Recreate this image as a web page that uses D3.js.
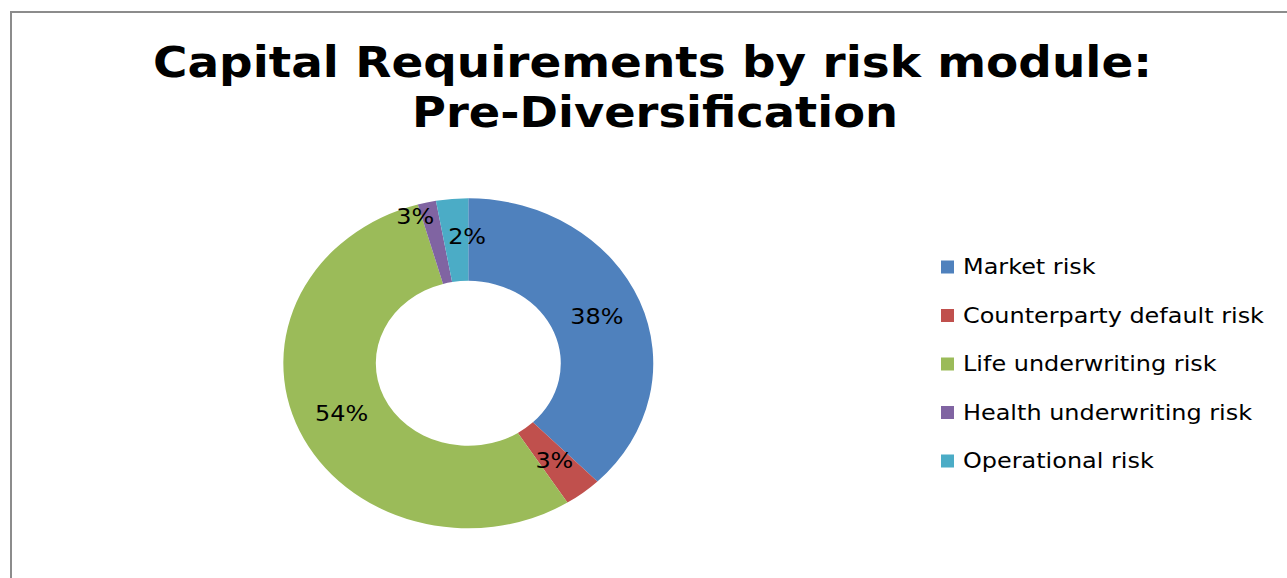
<!DOCTYPE html>
<html>
<head>
<meta charset="utf-8">
<script src="https://cdn.jsdelivr.net/npm/d3@7"></script>
<style>
  html, body { margin: 0; padding: 0; background: #fff; }
  svg { display: block; }
</style>
</head>
<body>
<svg id="chart" width="1287" height="578"></svg>
<script>
// ---- data ----
const categories = ["Market risk", "Counterparty default risk", "Life underwriting risk", "Health underwriting risk", "Operational risk"];
const values = [37.7, 3.3, 54.6, 1.6, 2.8];
const labels = ["38%", "3%", "54%", "3%", "2%"];
const colors = ["#4F81BD", "#C0504D", "#9BBB59", "#8064A2", "#4BACC6"];
const titleLines = ["Capital Requirements by risk module:", "Pre-Diversification"];

// ---- layout ----
const svg = d3.select("#chart");
const W = 1287, H = 578;
svg.append("rect").attr("width", W).attr("height", H).attr("fill", "#fff");

// frame (top and left edge visible)
svg.append("path")
  .attr("d", `M11,${H} L11,12 L${W},12`)
  .attr("fill", "none").attr("stroke", "#8c8c8c").attr("stroke-width", 2);

// title
const titleY = [77, 127];
const titleW = [999, 486];
const titleX = [652.5, 655];
svg.selectAll("text.title").data(titleLines).enter().append("text")
  .attr("class", "title")
  .attr("x", (d, i) => titleX[i]).attr("y", (d, i) => titleY[i])
  .attr("text-anchor", "middle")
  .attr("textLength", (d, i) => titleW[i])
  .attr("lengthAdjust", "spacingAndGlyphs")
  .style("font-family", "'DejaVu Sans', Verdana, sans-serif")
  .style("font-weight", "bold").style("font-size", "42px")
  .attr("fill", "#000")
  .text(d => d);

// donut
const cx = 468.3, cy = 363.3, R = 165, r = 82.5, sx = 1.121;
const pie = d3.pie().sort(null).value(d => d)(values);
const arc = d3.arc().innerRadius(r).outerRadius(R);
const g = svg.append("g").attr("transform", `translate(${cx},${cy}) scale(${sx},1)`);
g.selectAll("path").data(pie).enter().append("path")
  .attr("d", arc)
  .attr("fill", (d, i) => colors[i]);

// data labels
const labelArc = d3.arc().innerRadius((R + r) / 2).outerRadius((R + r) / 2);
const nudge = { 3: [-22, -26], 4: [11, -3] };
const textSX = 1.14;
svg.selectAll("text.lbl").data(pie).enter().append("text")
  .attr("class", "lbl")
  .attr("transform", (d, i) => {
    const c = labelArc.centroid(d);
    const n = nudge[i] || [0, 0];
    return `translate(${cx + c[0] * sx + n[0]},${cy + c[1] + n[1]}) scale(${textSX},1)`;
  })
  .attr("text-anchor", "middle")
  .attr("dominant-baseline", "central")
  .style("font-family", "'DejaVu Sans', Verdana, sans-serif")
  .style("font-size", "21px")
  .attr("fill", "#000")
  .text((d, i) => labels[i]);

// legend
const legendX = 941, legendY0 = 267, legendStep = 48.5;
const leg = svg.selectAll("g.leg").data(categories).enter().append("g")
  .attr("class", "leg")
  .attr("transform", (d, i) => `translate(${legendX},${legendY0 + i * legendStep})`);
leg.append("rect").attr("x", 0).attr("y", -6.5).attr("width", 13).attr("height", 13)
  .attr("fill", (d, i) => colors[i]);
leg.append("text")
  .attr("transform", `translate(22,0) scale(${textSX},1)`)
  .attr("dominant-baseline", "central")
  .style("font-family", "'DejaVu Sans', Verdana, sans-serif")
  .style("font-size", "21px")
  .attr("fill", "#000")
  .text(d => d);
</script>
</body>
</html>
